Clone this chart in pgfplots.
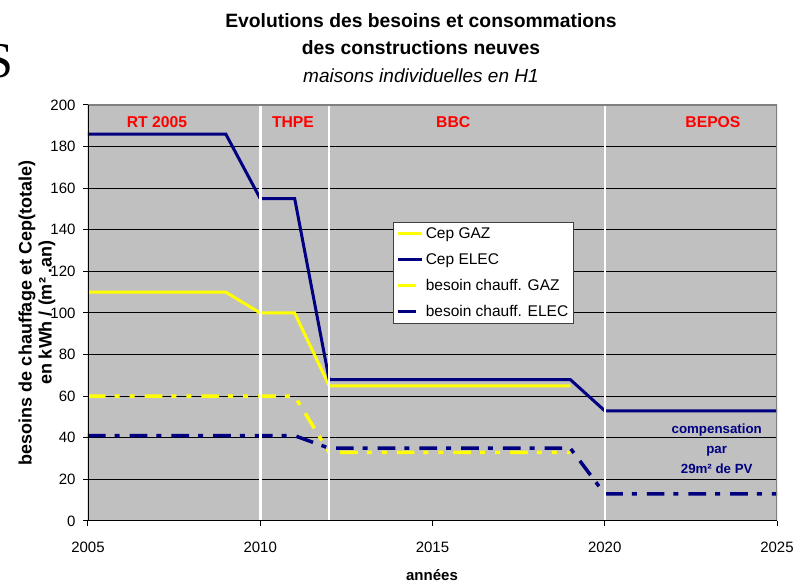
\documentclass[border=0pt]{standalone}
\usepackage{fontspec}
\setmainfont{Liberation Sans}
\newfontfamily\seriffont{Liberation Serif}
\usepackage{pgfplots}
\pgfplotsset{compat=1.18}
\definecolor{navy}{RGB}{0,0,128}
\definecolor{bggray}{RGB}{192,192,192}
\definecolor{ylw}{RGB}{255,255,0}
\definecolor{bordergray}{RGB}{128,128,128}
\begin{document}
\begin{tikzpicture}
\useasboundingbox (-88pt,-65pt) rectangle (721pt,521pt);
\begin{axis}[
  at={(0pt,0pt)}, anchor=south west,
  scale only axis, width=689pt, height=416pt,
  xmin=2005, xmax=2025, ymin=0, ymax=200,
  xtick={2005,2010,2015,2020,2025},
  ytick={0,20,...,200},
  /pgf/number format/set thousands separator={},
  /pgf/number format/assume math mode=true,
  tick label style={font=\fontsize{15}{18}\selectfont},
  xticklabel style={yshift=-12pt},
  yticklabel style={xshift=-4pt},
  tick align=outside, major tick length=5pt,
  xtick pos=bottom, ytick pos=left,
  tick style={black, line width=1pt},
  ymajorgrids, major grid style={black, line width=1pt},
  axis background/.style={fill=bggray},
  axis line style={draw=none},
  legend style={at={(axis cs:2013.85,143.7)}, anchor=north west,
    draw=black!75, line width=0.8pt, fill=white,
    font=\fontsize{15.5}{18}\selectfont, row sep=9.5pt, inner sep=3pt,
    cells={anchor=west}},
  legend image code/.code={\draw[#1] (0pt,0pt) -- (24pt,0pt);},
  legend cell align=left,
]
\addplot[ylw, line width=3pt] coordinates {(2005,110)(2009,110)(2010,100)(2011,100)(2012,65)(2019,65)};
\addlegendentry{Cep GAZ}
\addplot[navy, line width=3pt] coordinates {(2005,186)(2009,186)(2010,155)(2011,155)(2012,68)(2019,68)(2020,53)(2025,53)};
\addlegendentry{Cep ELEC}
\addplot[ylw, line width=3.5pt, dash pattern=on 17.7pt off 9pt on 5pt off 10pt on 5pt off 10pt] coordinates {(2005,60)(2011,60)(2012,33)(2019,33)};
\addlegendentry{besoin chauff. GAZ}
\addplot[navy, line width=3.5pt, dash pattern=on 17.7pt off 9pt on 5pt off 10pt] coordinates {(2005,41)(2011,41)(2012,35)(2019,35)(2020,13)(2025,13)};
\addlegendentry{besoin chauff. ELEC}
\addplot[white, line width=2.5pt, forget plot] coordinates {(2010,0)(2010,200)};
\addplot[white, line width=2.5pt, forget plot] coordinates {(2012,0)(2012,200)};
\addplot[white, line width=2.5pt, forget plot] coordinates {(2020,0)(2020,200)};
\draw[bordergray, line width=1.5pt] (rel axis cs:0,1) -- (rel axis cs:1,1) -- (rel axis cs:1,0);
\draw[black, line width=1.5pt] (rel axis cs:0,1) -- (rel axis cs:0,0) -- (rel axis cs:1,0);
\node[text=red, font=\bfseries\fontsize{15.7}{18}\selectfont] at (axis cs:2007,192) {RT 2005};
\node[text=red, font=\bfseries\fontsize{15.7}{18}\selectfont] at (axis cs:2010.95,192) {THPE};
\node[text=red, font=\bfseries\fontsize{15.7}{18}\selectfont] at (axis cs:2015.6,192) {BBC};
\node[text=red, font=\bfseries\fontsize{15.7}{18}\selectfont] at (axis cs:2023.14,192) {BEPOS};
\node[text=navy, align=center, font=\bfseries\fontsize{13.3}{20}\selectfont] at (axis cs:2023.25,34.6) {compensation\\par\\29m² de PV};
\end{axis}
\node[font=\bfseries\fontsize{19.3}{23}\selectfont] at (333pt,500pt) {Evolutions des besoins et consommations};
\node[font=\bfseries\fontsize{19.3}{23}\selectfont] at (333pt,473pt) {des constructions neuves};
\node[font=\itshape\fontsize{19}{22}\selectfont] at (333pt,445pt) {maisons individuelles en H1};
\node[rotate=90, align=center, font=\bfseries\fontsize{18}{20}\selectfont] at (-51pt,208pt) {besoins de chauffage et Cep(totale)\\en kWh / (m² .an)};
\node[font=\bfseries\fontsize{15}{18}\selectfont] at (344pt,-54pt) {années};
\node[anchor=east, font=\seriffont\fontsize{50}{54}\selectfont] at (-71pt,460pt) {S};
\end{tikzpicture}
\end{document}
